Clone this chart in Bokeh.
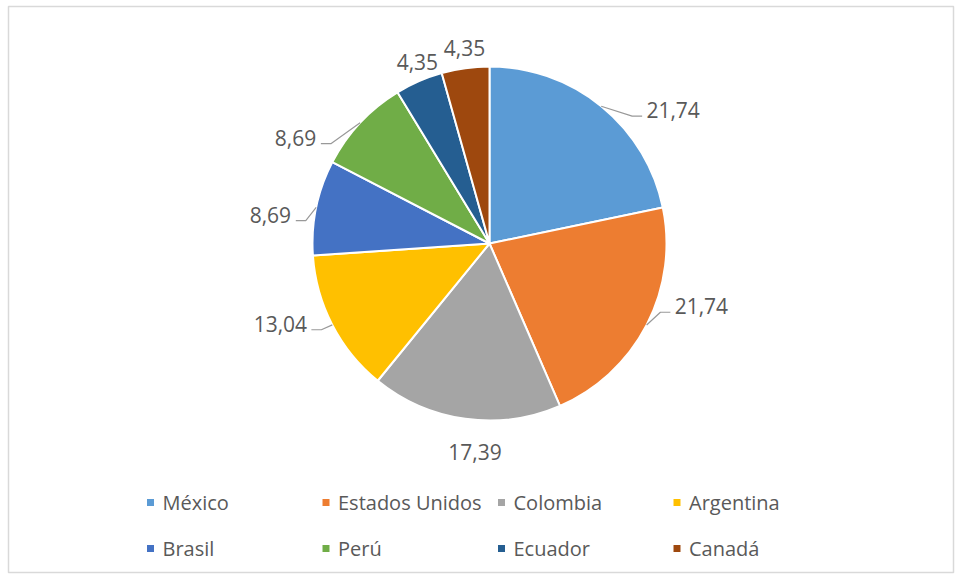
import math
from bokeh.plotting import figure
from bokeh.models import Range1d
from bokeh.core.properties import value
from bokeh.embed import file_html
from bokeh.resources import INLINE

# ---- data ----
countries = ["México", "Estados Unidos", "Colombia", "Argentina",
             "Brasil", "Perú", "Ecuador", "Canadá"]
values = [21.74, 21.74, 17.39, 13.04, 8.69, 8.69, 4.35, 4.35]
colors = ["#5B9BD5", "#ED7D31", "#A5A5A5", "#FFC000",
          "#4472C4", "#70AD47", "#255E91", "#9E480E"]

# ---- layout (pixels, y measured from top) ----
W, H = 958, 580
CX, CY, R = 489, 243, 177
label_angle_deg = [54, 106.5, 184, 249, 277.5, 298.6, 338.3, 352.7]
label_dist = [227, 221, 209, 224, 221, 221, 195, 197]
FONT = "Open Sans"
TXT = "#595959"

def Y(py):
    return H - py

p = figure(width=W, height=H, output_backend="svg", toolbar_location=None,
           x_range=Range1d(0, W), y_range=Range1d(0, H), min_border=0)
p.axis.visible = False
p.grid.visible = False
p.outline_line_color = None
p.background_fill_color = "white"
p.border_fill_color = "white"

# chart border
p.quad(left=[8], right=[953], top=[Y(6)], bottom=[Y(572)],
       fill_color=None, line_color="#D9D9D9", line_width=1.5)

total = sum(values)
starts, ends, mids = [], [], []
cum = 0.0
for v in values:
    f0 = cum / total
    cum += v
    f1 = cum / total
    starts.append(math.pi / 2 - 2 * math.pi * f0)
    ends.append(math.pi / 2 - 2 * math.pi * f1)
    mids.append(2 * math.pi * (f0 + f1) / 2)  # clockwise from top

p.wedge(x=[CX] * len(values), y=[Y(CY)] * len(values), radius=R,
        start_angle=starts, end_angle=ends, direction="clock",
        fill_color=colors, line_color="white", line_width=2)

# data labels
labels = [f"{v:.2f}".replace(".", ",") for v in values]
lx, ly = [], []
for a_deg, d in zip(label_angle_deg, label_dist):
    a = math.radians(a_deg)
    lx.append(CX + d * math.sin(a))
    ly.append(CY - d * math.cos(a))

p.text(x=lx, y=[Y(v) for v in ly], text=labels, text_font=value(FONT),
       text_font_size="21px", text_color=TXT, text_align="center",
       text_baseline="middle")

# leader lines for side labels
xs, ys = [], []
for i, m in enumerate(mids):
    s = math.sin(m)
    if abs(s) < 0.5:
        continue
    half = len(labels[i]) * 5.6
    ex = CX + R * math.sin(m)
    ey = CY - R * math.cos(m)
    if s > 0:
        x0 = lx[i] - half - 3
        x1 = x0 - 10
    else:
        x0 = lx[i] + half + 3
        x1 = x0 + 10
    y0 = ly[i] + 6
    xs.append([x0, x1, ex])
    ys.append([Y(y0), Y(y0), Y(ey)])
p.multi_line(xs=xs, ys=ys, line_color="#999999", line_width=1.2)

# legend
ncol = 4
mx, my, tx = [], [], []
for i in range(len(countries)):
    col, row = i % ncol, i // ncol
    x = 150 + 175.5 * col
    y = 502 + 46 * row
    mx.append(x)
    my.append(Y(y))
    tx.append(x + 12)
p.scatter(x=mx, y=my, marker="square", size=7, fill_color=colors,
          line_color=None)
p.text(x=tx, y=my, text=countries, text_font=value(FONT),
       text_font_size="20px", text_color=TXT, text_align="left",
       text_baseline="middle")

open("out.html", "w").write(file_html(p, INLINE))
